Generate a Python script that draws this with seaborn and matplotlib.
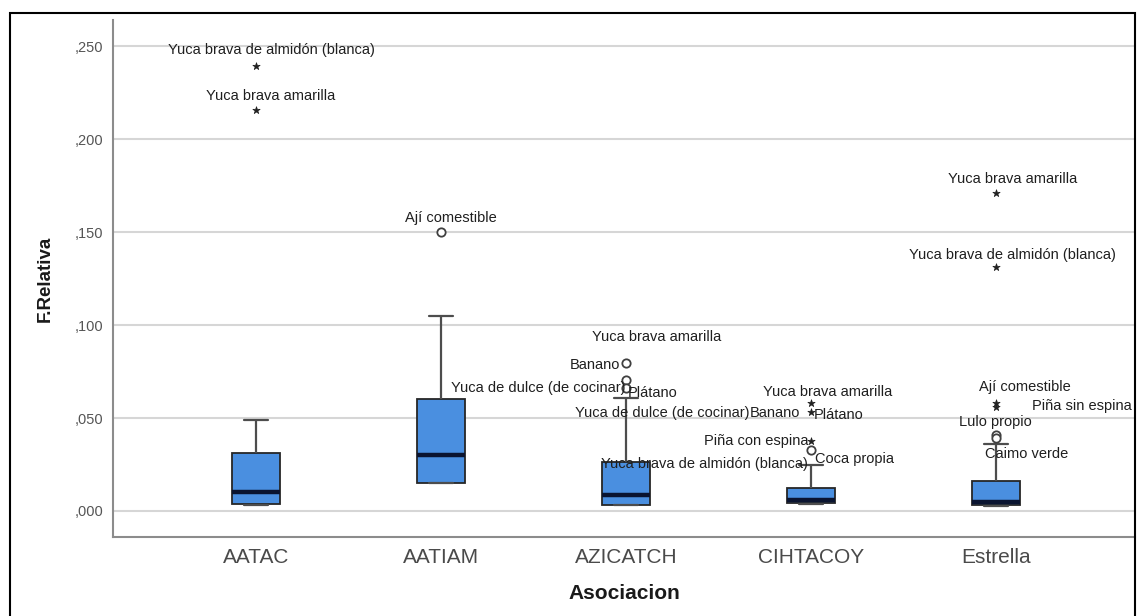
import matplotlib
matplotlib.use("Agg")
import matplotlib.pyplot as plt
import seaborn as sns
import pandas as pd
from matplotlib.patches import Rectangle

# ---------------- data ----------------
categories = ["AATAC", "AATIAM", "AZICATCH", "CIHTACOY", "Estrella"]
# five-number summary per group: lower whisker, Q1, median, Q3, upper whisker
whisker_low = [0.003, 0.015, 0.003, 0.004, 0.0025]
q1 = [0.0038, 0.015, 0.0032, 0.0043, 0.003]
median = [0.010, 0.030, 0.0086, 0.006, 0.005]
q3 = [0.031, 0.060, 0.0265, 0.0124, 0.016]
whisker_high = [0.049, 0.105, 0.061, 0.0247, 0.036]

# outliers (circle) and extreme values (asterisk)
out_group = ["AATIAM", "AZICATCH", "AZICATCH", "AZICATCH", "CIHTACOY", "Estrella", "Estrella"]
out_value = [0.150, 0.0796, 0.0705, 0.066, 0.0328, 0.041, 0.039]
ext_group = ["AATAC", "AATAC", "CIHTACOY", "CIHTACOY", "CIHTACOY", "Estrella", "Estrella", "Estrella", "Estrella"]
ext_value = [0.239, 0.2155, 0.058, 0.053, 0.0376, 0.171, 0.131, 0.058, 0.056]

# point labels: group, value of labelled point, text
label_group = ["AATAC", "AATAC", "AATIAM",
               "AZICATCH", "AZICATCH", "AZICATCH", "AZICATCH",
               "CIHTACOY", "CIHTACOY", "CIHTACOY", "CIHTACOY", "CIHTACOY", "CIHTACOY", "CIHTACOY",
               "Estrella", "Estrella", "Estrella", "Estrella", "Estrella", "Estrella"]
label_value = [0.239, 0.2155, 0.150,
               0.0796, 0.0796, 0.0705, 0.066,
               0.058, 0.053, 0.053, 0.053, 0.0376, 0.0328, 0.0247,
               0.171, 0.131, 0.058, 0.056, 0.041, 0.039]
label_text = ["Yuca brava de almidón (blanca)", "Yuca brava amarilla", "Ají comestible",
              "Yuca brava amarilla", "Banano", "Yuca de dulce (de cocinar)", "Plátano",
              "Yuca brava amarilla", "Yuca de dulce (de cocinar)", "Banano", "Plátano",
              "Piña con espina", "Coca propia", "Yuca brava de almidón (blanca)",
              "Yuca brava amarilla", "Yuca brava de almidón (blanca)", "Ají comestible",
              "Piña sin espina", "Lulo propio", "Caimo verde"]
# label layout (offset in pixels from point, alignment)
label_dx = [15, 15, 10, 31, -6, -1, 2, 17, -62, -11, 3, -3, 4, -3, 17, 16, 29, 36, -1, -11]
label_dy = [16, 14, 14, 26, -2, -8, -5, 11, -1, -1, -3, 0, -9, 1, 14, 12, 16, 1, 13, -16]
label_ha = ["center", "center", "center", "center", "right", "right", "left",
            "center", "right", "right", "left", "right", "left", "right",
            "center", "center", "center", "left", "center", "left"]

yticks = [0.0, 0.05, 0.10, 0.15, 0.20, 0.25]
ytick_labels = [",000", ",050", ",100", ",150", ",200", ",250"]

# ---------------- build tables ----------------
rows = []
for i, g in enumerate(categories):
    for v in (whisker_low[i], q1[i], median[i], q3[i], whisker_high[i]):
        rows.append({"Asociacion": g, "F.Relativa": v})
box_df = pd.DataFrame(rows)
out_df = pd.DataFrame({"Asociacion": out_group, "F.Relativa": out_value})
ext_df = pd.DataFrame({"Asociacion": ext_group, "F.Relativa": ext_value})

sns.set_theme(style="white")
plt.rcParams["font.family"] = ["Liberation Sans", "DejaVu Sans"]

W, H = 1138, 616
fig = plt.figure(figsize=(W / 100, H / 100), dpi=100)
ax = fig.add_axes([113 / W, 1 - 537 / H, (1135 - 113) / W, (537 - 20) / H])

sns.boxplot(data=box_df, x="Asociacion", y="F.Relativa", order=categories,
            whis=(0, 100), showfliers=False, width=0.255, ax=ax,
            boxprops=dict(facecolor="#4a8fe0", edgecolor="#262626", linewidth=1.3),
            medianprops=dict(color="#0a1430", linewidth=3.2),
            whiskerprops=dict(color="#4d4d4d", linewidth=1.6),
            capprops=dict(color="#4d4d4d", linewidth=1.6))

sns.stripplot(data=out_df, x="Asociacion", y="F.Relativa", order=categories,
              jitter=False, marker="o", size=6, color="white",
              edgecolor="#404040", linewidth=1.3, ax=ax, zorder=5)
sns.stripplot(data=ext_df, x="Asociacion", y="F.Relativa", order=categories,
              jitter=False, marker="*", size=5.5, color="#222222",
              edgecolor="#222222", linewidth=0.5, ax=ax, zorder=5)

for g, v, t, dx, dy, ha in zip(label_group, label_value, label_text, label_dx, label_dy, label_ha):
    ax.annotate(t, xy=(categories.index(g), v), xytext=(dx, dy),
                textcoords="offset pixels", ha=ha, va="center",
                fontsize=10.5, color="#1f1f1f", zorder=6)

ax.set_xlim(-0.773, 4.751)
ax.set_ylim(-0.01398, 0.264)
ax.set_yticks(yticks)
ax.set_yticklabels(ytick_labels)
ax.tick_params(axis="both", length=0)
ax.tick_params(axis="y", labelsize=10.5, labelcolor="#555555", pad=7)
ax.tick_params(axis="x", labelsize=15, labelcolor="#4a4a4a", pad=8)
ax.yaxis.grid(True, color="#d6d6d6", linewidth=1.5)
ax.xaxis.grid(False)
ax.set_axisbelow(True)
for s in ("top", "right"):
    ax.spines[s].set_visible(False)
for s in ("left", "bottom"):
    ax.spines[s].set_color("#8c8c8c")
    ax.spines[s].set_linewidth(1.5)

ax.set_xlabel("Asociacion", fontsize=15, fontweight="bold", color="#1a1a1a", labelpad=12)
ax.set_ylabel("F.Relativa", fontsize=13.5, fontweight="bold", color="#1a1a1a", labelpad=15)

fig.patches.append(Rectangle((10 / W, -0.02), (1135 - 10) / W, 1 - 13 / H + 0.02,
                             transform=fig.transFigure, fill=False,
                             edgecolor="black", linewidth=1.5))

fig.savefig("out.png", dpi=100, facecolor="white")
